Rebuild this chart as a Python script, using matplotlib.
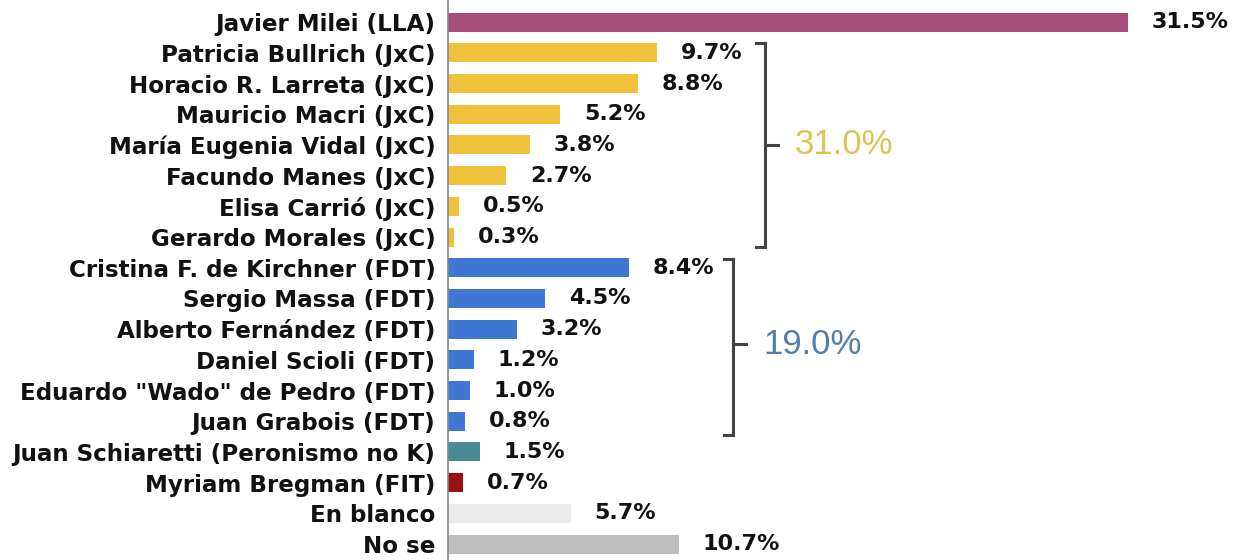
import matplotlib
matplotlib.use("Agg")
import matplotlib.pyplot as plt

# Datos
candidatos = [
    "Javier Milei (LLA)",
    "Patricia Bullrich (JxC)",
    "Horacio R. Larreta (JxC)",
    "Mauricio Macri (JxC)",
    "María Eugenia Vidal (JxC)",
    "Facundo Manes (JxC)",
    "Elisa Carrió (JxC)",
    "Gerardo Morales (JxC)",
    "Cristina F. de Kirchner (FDT)",
    "Sergio Massa (FDT)",
    "Alberto Fernández (FDT)",
    "Daniel Scioli (FDT)",
    'Eduardo "Wado" de Pedro (FDT)',
    "Juan Grabois (FDT)",
    "Juan Schiaretti (Peronismo no K)",
    "Myriam Bregman (FIT)",
    "En blanco",
    "No se",
]
valores = [31.5, 9.7, 8.8, 5.2, 3.8, 2.7, 0.5, 0.3,
           8.4, 4.5, 3.2, 1.2, 1.0, 0.8, 1.5, 0.7, 5.7, 10.7]
colores = (["#A84C7A"] + ["#F0C23C"] * 7 + ["#3F78D4"] * 6 +
           ["#4A8A94", "#9B1111", "#EBEBEB", "#BDBDBD"])

# totales por coalicion
grupos = [("31.0%", 1, 7, "#DCC25A"), ("19.0%", 8, 13, "#4E7FAE")]

fig = plt.figure(figsize=(12.33, 5.6), dpi=100)
ax = fig.add_axes([448 / 1233, 0, 785 / 1233, 1])

y = list(range(len(candidatos)))
ax.barh(y, valores, height=0.62, color=colores)

ax.set_xlim(0, 785 / 21.59)
ax.set_ylim(len(candidatos) - 0.48, -0.72)

for yi, v in zip(y, valores):
    ax.annotate(f"{v:.1f}%", (v, yi), xytext=(17, 0), textcoords="offset points",
                va="center", ha="left", fontsize=16, fontweight="bold",
                color="#111111")

ax.set_yticks(y)
ax.set_yticklabels(candidatos, fontsize=16.6, fontweight="bold", color="#111111")
ax.tick_params(axis="y", length=0, pad=9)
ax.set_xticks([])

for s in ["top", "right", "bottom"]:
    ax.spines[s].set_visible(False)
ax.spines["left"].set_color("#888888")
ax.spines["left"].set_linewidth(1.2)

# corchetes
def corchete(x, y0, y1, ym, texto, color):
    hook = 0.4
    ax.plot([x - hook, x, x, x - hook], [y0, y0, y1, y1], color="#444444",
            lw=2.2, solid_joinstyle="miter", clip_on=False)
    ax.plot([x, x + 0.6], [ym, ym], color="#444444", lw=2.2)
    ax.text(x + 1.4, ym, texto, color=color, fontsize=25, va="center",
            ha="left", family="Liberation Sans")

corchete(14.68, 0.69, 7.33, 4.0, grupos[0][0], grupos[0][3])
corchete(13.2, 7.72, 13.45, 10.5, grupos[1][0], grupos[1][3])

fig.savefig("out.png", dpi=100)
